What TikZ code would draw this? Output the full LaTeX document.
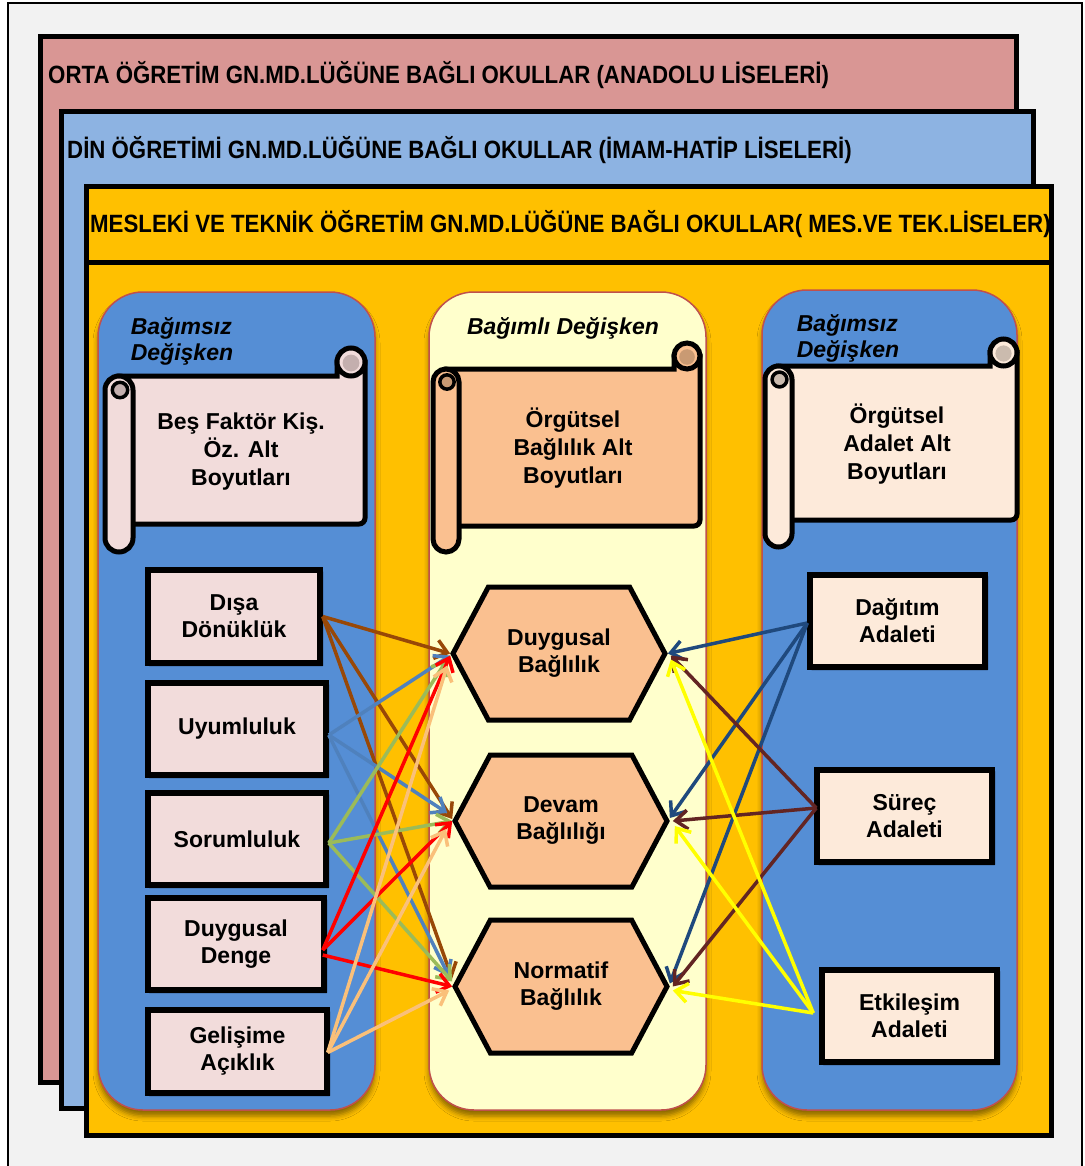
\documentclass[tikz,border=0pt]{standalone}
\usepackage{fontspec}
\setmainfont{Liberation Sans}
\newfontfamily\hdfont[FakeStretch=0.89]{Liberation Sans}
\usetikzlibrary{arrows.meta,shapes.symbols,shadows.blur}

\definecolor{pagebg}{HTML}{F2F2F2}
\definecolor{redhdr}{HTML}{D99694}
\definecolor{bluehdr}{HTML}{8DB3E2}
\definecolor{gold}{HTML}{FFC000}
\definecolor{colblue}{HTML}{558ED5}
\definecolor{colcream}{HTML}{FFFFCC}
\definecolor{colrim}{HTML}{C0504D}
\definecolor{pinkfill}{HTML}{F2DCDB}
\definecolor{pinkdark}{HTML}{C4AFAE}
\definecolor{peach}{HTML}{FAC090}
\definecolor{peachdark}{HTML}{C99A73}
\definecolor{linen}{HTML}{FDEADA}
\definecolor{linendark}{HTML}{CBBBAE}
\definecolor{abrown}{HTML}{984807}
\definecolor{asteel}{HTML}{4F81BD}
\definecolor{agreen}{HTML}{9BBB59}
\definecolor{ared}{HTML}{FF0000}
\definecolor{atan}{HTML}{FAC07A}
\definecolor{anavy}{HTML}{1F497D}
\definecolor{amaroon}{HTML}{632523}
\definecolor{ayellow}{HTML}{FFFF00}

% horizontal scroll: left, right, top, bottom, curl radius, fill, curl shade
\newcommand\drawscroll[7]{%
  \filldraw[scrollline, fill=#6] (#1+#5,#3+2*#5) -- (#2-2*#5,#3+2*#5) -- (#2-2*#5,#3+#5)
    -- (#2,#3+#5) [rounded corners=6pt] -- (#2,#4-2*#5) -- (#1+#5,#4-2*#5) [sharp corners] -- cycle;
  \filldraw[scrollline, fill=#6] (#2-#5,#3+#5) circle[radius=#5];
  \fill[#7] (#2-#5,#3+#5+1) circle[radius=0.6*#5];
  \filldraw[scrollline, fill=#6, rounded corners=#5 pt] (#1,#3+2*#5) rectangle (#1+2*#5,#4);
  \filldraw[scrollline, line width=3.5pt, fill=#7] (#1+#5+1,#3+3*#5) circle[radius=0.55*#5];
}

\begin{document}
\begin{tikzpicture}[x=1pt,y=-1pt,
  frame/.style={draw=black,line width=5pt},
  hdr/.style={anchor=west,inner sep=0pt,font=\hdfont\bfseries\fontsize{25}{30}\selectfont},
  column/.style={draw=colrim,line width=1.5pt,rounded corners=45pt,
    blur shadow={shadow xshift=0pt,shadow yshift=-6pt,shadow blur radius=5pt,shadow opacity=45}},
  ttl/.style={inner sep=0pt,align=left,font=\bfseries\itshape\fontsize{23}{26}\selectfont},
  scrollline/.style={draw=black,line width=5pt},
  stxt/.style={align=center,inner sep=0pt,font=\bfseries\fontsize{23}{28}\selectfont},
  cbox/.style={draw=black,line width=5.5pt,align=center,inner sep=0pt,
    font=\bfseries\fontsize{23}{27}\selectfont,
    blur shadow={shadow xshift=2pt,shadow yshift=-2pt,shadow blur radius=1.5pt,shadow opacity=35}},
  hexa/.style={signal,signal to=east and west,signal pointer angle=124,draw=black,line width=5pt,
    fill=peach,align=center,inner sep=0pt,font=\bfseries\fontsize{23}{27}\selectfont},
  arr/.style={line width=3.5pt,-{Straight Barb[length=12pt,width=19pt]}},
]
\useasboundingbox (0,0) rectangle (1084,1166);

% page background and outer frame
\fill[white] (0,0) rectangle (1084,1166);
\fill[pagebg] (8,3) rectangle (1082,1175);
\draw[line width=2pt] (8,1175) -- (8,3) -- (1082,3) -- (1082,1175);

% stacked school-type panels
\filldraw[frame, fill=redhdr] (40,37) rectangle (1016,1082);
\filldraw[frame, fill=bluehdr] (61,112) rectangle (1033,1108);
\filldraw[frame, fill=gold] (86,187) rectangle (1051,1135);
\draw[frame] (86,262) -- (1051,262);

\node[hdr] (h1) at (48,75) {ORTA ÖĞRETİM GN.MD.LÜĞÜNE BAĞLI OKULLAR (ANADOLU LİSELERİ)};
\node[hdr] (h2) at (67,150) {DİN ÖĞRETİMİ GN.MD.LÜĞÜNE BAĞLI OKULLAR (İMAM-HATİP LİSELERİ)};
\node[hdr] (h3) at (90,224) {MESLEKİ VE TEKNİK ÖĞRETİM GN.MD.LÜĞÜNE BAĞLI OKULLAR( MES.VE TEK.LİSELER)};

% variable columns
\filldraw[column, fill=colblue] (98,292) rectangle (375,1110);
\filldraw[column, fill=colcream] (429,292) rectangle (706,1110);
\filldraw[column, fill=colblue] (762,290) rectangle (1017,1110);

\node[ttl] (t1) at (182,341) {Bağımsız\\Değişken};
\node[ttl] (t2) at (563,328) {Bağımlı Değişken};
\node[ttl] (t3) at (848,338) {Bağımsız\\Değişken};

% scrolls
\drawscroll{105}{365}{348}{552}{14}{pinkfill}{pinkdark}
\drawscroll{433}{700}{343}{552}{13}{peach}{peachdark}
\drawscroll{765}{1017}{339}{547}{13.5}{linen}{linendark}

\node[stxt] (s1) at (241,452) {Beş Faktör Kiş.\\Öz. Alt\\Boyutları};
\node[stxt] (s2) at (573,448) {Örgütsel\\Bağlılık Alt\\Boyutları};
\node[stxt] (s3) at (897,444) {Örgütsel\\Adalet Alt\\Boyutları};

% personality dimensions
\node[cbox, fill=pinkfill, minimum width=172pt, minimum height=93pt] (lb1) at (234,616.5) {Dışa\\Dönüklük};
\node[cbox, fill=pinkfill, minimum width=178pt, minimum height=92pt] (lb2) at (237,729) {Uyumluluk};
\node[cbox, fill=pinkfill, minimum width=178pt, minimum height=92pt] (lb3) at (237,839) {Sorumluluk};
\node[cbox, fill=pinkfill, minimum width=176pt, minimum height=92pt] (lb4) at (236,944) {Duygusal\\Denge};
\node[cbox, fill=pinkfill, minimum width=179pt, minimum height=83pt] (lb5) at (237.5,1051.5) {Gelişime\\Açıklık};

% commitment dimensions
\node[hexa, minimum width=212pt, minimum height=133pt] (hx1) at (559,653.5) {Duygusal\\Bağlılık};
\node[hexa, minimum width=212pt, minimum height=132pt] (hx2) at (561,821) {Devam\\Bağlılığı};
\node[hexa, minimum width=212pt, minimum height=133pt] (hx3) at (561,986.5) {Normatif\\Bağlılık};

% justice dimensions
\node[cbox, fill=linen, minimum width=175pt, minimum height=92pt] (rb1) at (897.5,621) {Dağıtım\\Adaleti};
\node[cbox, fill=linen, minimum width=175pt, minimum height=92pt] (rb2) at (904.5,816) {Süreç\\Adaleti};
\node[cbox, fill=linen, minimum width=175pt, minimum height=92pt] (rb3) at (909.5,1016) {Etkileşim\\Adaleti};

% personality -> commitment
\draw[arr, abrown] (lb1.east) -- (hx1.west);
\draw[arr, abrown] (lb1.east) -- ([yshift=2pt]hx2.west);
\draw[arr, abrown] (lb1.east) -- ([yshift=8pt]hx3.west);

\draw[arr, asteel] ([yshift=-6pt]lb2.east) -- ([yshift=-2pt]hx1.west);
\draw[arr, asteel] ([yshift=-6pt]lb2.east) -- ([xshift=-5pt,yshift=8pt]hx2.west);
\draw[arr, asteel] ([yshift=-6pt]lb2.east) -- ([xshift=-3pt,yshift=10pt]hx3.west);

\draw[arr, agreen] ([yshift=-4pt]lb3.east) -- ([xshift=-3pt,yshift=-6pt]hx1.west);
\draw[arr, agreen] ([yshift=-4pt]lb3.east) -- (hx2.west);
\draw[arr, agreen] ([yshift=-4pt]lb3.east) -- ([yshift=5pt]hx3.west);

\draw[arr, ared] ([xshift=-4pt,yshift=-6pt]lb4.east) -- ([yshift=-2pt]hx1.west);
\draw[arr, ared] ([xshift=-4pt,yshift=-6pt]lb4.east) -- (hx2.west);
\draw[arr, ared] ([xshift=-4pt,yshift=-11pt]lb4.east) -- (hx3.west);

\draw[arr, atan] ([xshift=-2pt,yshift=-1pt]lb5.east) -- ([xshift=-3pt,yshift=-12pt]hx1.west);
\draw[arr, atan] ([xshift=-2pt,yshift=-1pt]lb5.east) -- ([xshift=-6pt,yshift=-8pt]hx2.west);
\draw[arr, atan] ([xshift=-2pt,yshift=-1pt]lb5.east) -- ([xshift=-3pt,yshift=-4pt]hx3.west);

% justice -> commitment
\draw[arr, anavy] ([yshift=-2pt]rb1.west) -- (hx1.east);
\draw[arr, anavy] ([yshift=-2pt]rb1.west) -- ([yshift=3pt]hx2.east);
\draw[arr, anavy] ([yshift=-2pt]rb1.west) -- ([yshift=3pt]hx3.east);

\draw[arr, amaroon] ([xshift=2pt,yshift=8pt]rb2.west) -- ([xshift=3pt,yshift=-2pt]hx1.east);
\draw[arr, amaroon] ([xshift=2pt,yshift=8pt]rb2.west) -- ([xshift=3pt]hx2.east);
\draw[arr, amaroon] ([xshift=2pt,yshift=8pt]rb2.west) -- ([xshift=3pt]hx3.east);

\draw[arr, ayellow] ([xshift=-6pt,yshift=3pt]rb3.west) -- ([xshift=3pt,yshift=-6pt]hx1.east);
\draw[arr, ayellow] ([xshift=-6pt,yshift=3pt]rb3.west) -- ([xshift=5pt,yshift=-5pt]hx2.east);
\draw[arr, ayellow] ([xshift=-6pt,yshift=3pt]rb3.west) -- ([xshift=3pt,yshift=-4pt]hx3.east);
\end{tikzpicture}
\end{document}
